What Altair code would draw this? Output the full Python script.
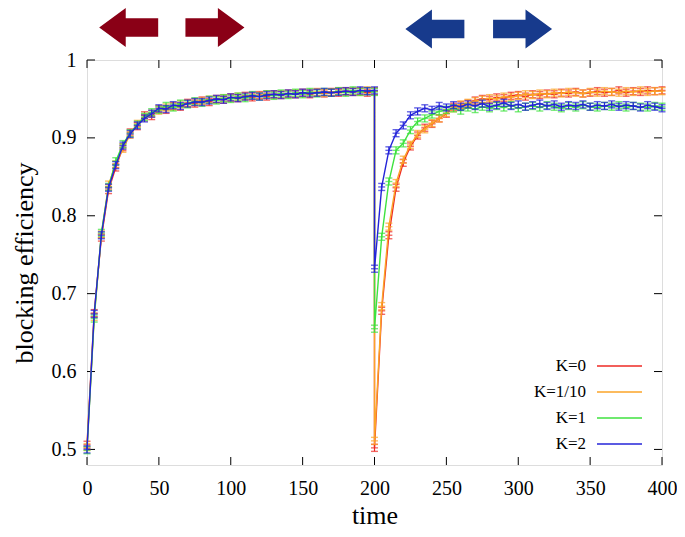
import altair as alt
import pandas as pd

# ---------------- data ----------------
TIME_A = list(range(0, 201, 5))      # first phase, t = 0 ... 200
TIME_B = list(range(200, 401, 5))    # second phase, t = 200 ... 400
TIME = TIME_A + TIME_B

SERIES = ["K=0", "K=1/10", "K=1", "K=2"]
COLORS = ["#ee2a24", "#fba428", "#3fe23f", "#2424d8"]
ERR = [0.0045, 0.0045, 0.0045, 0.0045]

K0_A = [0.506, 0.675, 0.772, 0.833, 0.862, 0.888, 0.907, 0.915, 0.929, 0.928,
        0.937, 0.936, 0.941, 0.940, 0.945, 0.944, 0.948, 0.946, 0.950, 0.949,
        0.952, 0.951, 0.954, 0.952, 0.955, 0.953, 0.956, 0.955, 0.957, 0.956,
        0.958, 0.956, 0.958, 0.957, 0.959, 0.958, 0.960, 0.959, 0.960, 0.958,
        0.960]
K0_B = [0.502, 0.678, 0.775, 0.836, 0.868, 0.889, 0.903, 0.913, 0.918, 0.925,
        0.931, 0.940, 0.942, 0.944, 0.948, 0.950, 0.949, 0.952, 0.951, 0.954,
        0.955, 0.953, 0.956, 0.955, 0.957, 0.956, 0.958, 0.957, 0.959, 0.957,
        0.958, 0.960, 0.958, 0.959, 0.961, 0.958, 0.960, 0.959, 0.961, 0.960,
        0.961]

K01_A = [0.503, 0.670, 0.776, 0.840, 0.866, 0.886, 0.904, 0.918, 0.926, 0.931,
         0.935, 0.939, 0.940, 0.943, 0.944, 0.946, 0.947, 0.949, 0.949, 0.951,
         0.951, 0.953, 0.953, 0.954, 0.954, 0.956, 0.955, 0.956, 0.956, 0.957,
         0.957, 0.958, 0.959, 0.958, 0.958, 0.960, 0.959, 0.960, 0.959, 0.961,
         0.960]
K01_B = [0.511, 0.684, 0.786, 0.842, 0.872, 0.891, 0.905, 0.911, 0.919, 0.925,
         0.932, 0.938, 0.943, 0.945, 0.947, 0.949, 0.951, 0.950, 0.953, 0.952,
         0.954, 0.956, 0.955, 0.957, 0.956, 0.958, 0.957, 0.959, 0.958, 0.957,
         0.959, 0.958, 0.960, 0.959, 0.958, 0.960, 0.959, 0.961, 0.959, 0.960,
         0.960]

K1_A = [0.499, 0.668, 0.778, 0.837, 0.870, 0.892, 0.906, 0.917, 0.927, 0.933,
        0.936, 0.941, 0.939, 0.944, 0.943, 0.947, 0.945, 0.949, 0.948, 0.951,
        0.950, 0.953, 0.951, 0.955, 0.953, 0.956, 0.954, 0.957, 0.955, 0.958,
        0.956, 0.959, 0.957, 0.959, 0.958, 0.960, 0.958, 0.961, 0.959, 0.960,
        0.959]
K1_B = [0.655, 0.773, 0.844, 0.884, 0.893, 0.910, 0.921, 0.925, 0.930, 0.934,
        0.936, 0.938, 0.935, 0.939, 0.937, 0.940, 0.938, 0.941, 0.939, 0.942,
        0.938, 0.940, 0.941, 0.939, 0.942, 0.940, 0.938, 0.941, 0.939, 0.942,
        0.940, 0.939, 0.941, 0.940, 0.942, 0.939, 0.941, 0.940, 0.939, 0.941,
        0.940]

K2_A = [0.500, 0.674, 0.775, 0.836, 0.865, 0.890, 0.905, 0.916, 0.925, 0.931,
        0.938, 0.937, 0.942, 0.941, 0.944, 0.946, 0.946, 0.948, 0.950, 0.949,
        0.952, 0.951, 0.953, 0.954, 0.953, 0.955, 0.956, 0.955, 0.957, 0.956,
        0.958, 0.957, 0.958, 0.959, 0.958, 0.959, 0.960, 0.959, 0.961, 0.960,
        0.961]
K2_B = [0.732, 0.837, 0.884, 0.906, 0.916, 0.929, 0.934, 0.938, 0.936, 0.941,
        0.939, 0.942, 0.940, 0.943, 0.941, 0.944, 0.940, 0.942, 0.945, 0.941,
        0.943, 0.940, 0.942, 0.944, 0.941, 0.943, 0.940, 0.942, 0.941, 0.943,
        0.940, 0.942, 0.941, 0.943, 0.940, 0.942, 0.941, 0.939, 0.942, 0.940,
        0.938]

VALUES = [K0_A + K0_B, K01_A + K01_B, K1_A + K1_B, K2_A + K2_B]

XTICKS = [0, 50, 100, 150, 200, 250, 300, 350, 400]
YTICKS = [0.5, 0.6, 0.7, 0.8, 0.9, 1.0]

ARROW_T = [29, 89, 242, 303]
ARROW_DIR = ["left", "right", "left", "right"]
ARROW_COLORS = ["#8a0016", "#8a0016", "#173a8c", "#173a8c"]

# ---------------- styling ----------------
W, H = 575, 405
FONT = "Liberation Serif"
TICK_LEN = 8

LEFT_ARROW = "M-1,0 L-0.1,-0.66 L-0.1,-0.31 L1,-0.31 L1,0.31 L-0.1,0.31 L-0.1,0.66 Z"
RIGHT_ARROW = "M1,0 L0.1,-0.66 L0.1,-0.31 L-1,-0.31 L-1,0.31 L0.1,0.31 L0.1,0.66 Z"

XS = alt.Scale(domain=[0, 400], nice=False, zero=False)
YS = alt.Scale(domain=[0.48, 1.0], nice=False, zero=False)

XAX = alt.Axis(values=XTICKS, ticks=False, domain=False, grid=False,
               labelFont=FONT, labelFontSize=20, labelColor="black",
               labelPadding=13, labelFlush=False, labelOverlap=False,
               title="time", titleFont=FONT, titleFontSize=26,
               titleFontWeight="normal", titleColor="black",
               titleX=W / 2, titleY=50, titleBaseline="middle", titleAlign="center")
YAX = alt.Axis(values=YTICKS, ticks=False, domain=False, grid=False, format="~g",
               labelFont=FONT, labelFontSize=20, labelColor="black",
               labelPadding=11, labelFlush=False, labelOverlap=False,
               title="blocking efficiency", titleFont=FONT, titleFontSize=26,
               titleFontWeight="normal", titleColor="black",
               titleAngle=270, titleX=-63, titleY=H / 2,
               titleBaseline="middle", titleAlign="center")


def X(field):
    return alt.X(f"{field}:Q", scale=XS, axis=XAX)


def Y(field):
    return alt.Y(f"{field}:Q", scale=YS, axis=YAX)


layers = []

# inward ticks on all four sides (gnuplot style)
ytick_df = pd.DataFrame({"v": YTICKS})
xtick_df = pd.DataFrame({"t": XTICKS})
layers.append(alt.Chart(ytick_df).mark_rule(color="black", strokeWidth=1).encode(
    y=Y("v"), x=alt.value(0), x2=alt.value(TICK_LEN)))
layers.append(alt.Chart(ytick_df).mark_rule(color="black", strokeWidth=1).encode(
    y=Y("v"), x=alt.value(W - TICK_LEN), x2=alt.value(W)))
layers.append(alt.Chart(xtick_df).mark_rule(color="black", strokeWidth=1).encode(
    x=X("t"), y=alt.value(H), y2=alt.value(H - TICK_LEN)))
layers.append(alt.Chart(xtick_df).mark_rule(color="black", strokeWidth=1).encode(
    x=X("t"), y=alt.value(0), y2=alt.value(TICK_LEN)))

# series: line + error bars + point markers
for i, name in enumerate(SERIES):
    vals = VALUES[i]
    df = pd.DataFrame({"t": TIME, "v": vals, "idx": list(range(len(TIME)))})
    df["lo"] = df["v"] - ERR[i]
    df["hi"] = df["v"] + ERR[i]
    c = COLORS[i]
    base = alt.Chart(df)
    layers.append(base.mark_line(color=c, strokeWidth=1.4).encode(
        x=X("t"), y=Y("v"), order=alt.Order("idx:Q")))
    layers.append(base.mark_rule(color=c, strokeWidth=1.2).encode(
        x=X("t"), y=Y("lo"), y2=alt.Y2("hi")))
    for f in ("lo", "hi", "v"):
        layers.append(base.mark_tick(color=c, orient="horizontal", size=7, thickness=1.4).encode(
            x=X("t"), y=Y(f)))

# arrows above the plot
for t, d, c in zip(ARROW_T, ARROW_DIR, ARROW_COLORS):
    adf = pd.DataFrame({"t": [t]})
    yy = -32.5 if c == "#8a0016" else -31
    layers.append(alt.Chart(adf).mark_point(filled=True, opacity=1, strokeWidth=0).encode(
        x=X("t"),
        y=alt.value(yy),
        shape=alt.value(LEFT_ARROW if d == "left" else RIGHT_ARROW),
        size=alt.value(59 * 59),
        color=alt.value(c)))

# legend (inside, bottom right)
for i, (name, c) in enumerate(zip(SERIES, COLORS)):
    ly = 306 + 26 * i
    ldf = pd.DataFrame({"label": [name]})
    layers.append(alt.Chart(ldf).mark_text(font=FONT, fontSize=17, align="right",
                                           baseline="middle", color="black").encode(
        text="label:N", x=alt.value(W - 76), y=alt.value(ly)))
    layers.append(alt.Chart(ldf).mark_rule(color=c, strokeWidth=1.3).encode(
        x=alt.value(W - 65), x2=alt.value(W - 20), y=alt.value(ly)))

chart = alt.layer(*layers).properties(
    width=W, height=H,
    padding={"left": 79, "top": 52, "right": 15, "bottom": 64},
    autosize=alt.AutoSizeParams(type="none"),
).configure_view(stroke="black", strokeWidth=1).configure(font=FONT, background="white")

chart.save("out.html", embed_options={"renderer": "svg", "actions": False})
